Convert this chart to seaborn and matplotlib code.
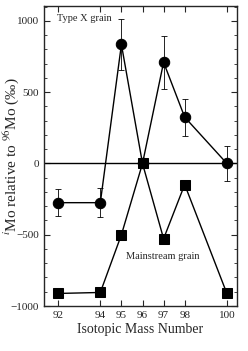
import numpy as np
import pandas as pd
import matplotlib
matplotlib.use("Agg")
from matplotlib import pyplot as plt
from matplotlib.ticker import MultipleLocator
import seaborn as sns

# isotope masses and delta values (permil)
mass = [92, 94, 95, 96, 97, 98, 100]
type_x = [-275, -275, 835, 0, 710, 325, 0]
type_x_err = [95, 100, 180, 0, 185, 130, 125]
mainstream = [-912, -905, -500, 0, -528, -148, -912]
mainstream_err = [15, 15, 30, 0, 25, 20, 15]

sns.set_style("ticks")
plt.rcParams["font.family"] = ["Liberation Serif", "DejaVu Serif"]
plt.rcParams["mathtext.fontset"] = "stix"

df = pd.DataFrame({
    "mass": mass * 2,
    "delta": type_x + mainstream,
    "grain": ["Type X"] * len(mass) + ["Mainstream"] * len(mass),
})

fig = plt.figure(figsize=(2.48, 3.51), dpi=100)
ax = fig.add_axes([44 / 248, 45 / 351, 193 / 248, 300 / 351])

ax.axhline(0, color="black", lw=1.0, zorder=1)

ax.errorbar(mass, type_x, yerr=type_x_err, fmt="none", ecolor="black",
            elinewidth=0.6, capsize=2, capthick=0.6, zorder=2)
ax.errorbar(mass, mainstream, yerr=mainstream_err, fmt="none", ecolor="black",
            elinewidth=0.6, capsize=2, capthick=0.6, zorder=2)

sns.lineplot(data=df, x="mass", y="delta", style="grain", markers={"Type X": "o", "Mainstream": "s"},
             dashes=False, color="black", lw=1.0, markersize=7.5, markeredgecolor="black",
             legend=False, ax=ax, zorder=3)

ax.set_xlim(91.33, 100.48)
ax.set_ylim(-1000, 1105)
ax.set_xticks(mass)
ax.set_yticks([-1000, -500, 0, 500, 1000])
ax.yaxis.set_minor_locator(MultipleLocator(100))
ax.tick_params(direction="in", top=True, right=True, labelsize=8, length=4, width=0.8)
ax.tick_params(which="minor", direction="in", right=True, length=2.5, width=0.6)
for s in ax.spines.values():
    s.set_linewidth(1.0)

ax.set_xlabel("Isotopic Mass Number", fontsize=10, labelpad=2)
ax.set_ylabel("$^{i}$Mo relative to $^{96}$Mo (‰)", fontsize=11)
ax.yaxis.set_label_coords(-0.12, 0.5)

ax.text(91.95, 1020, "Type X grain", fontsize=7.5, va="center", ha="left")
ax.text(95.2, -650, "Mainstream grain", fontsize=7.5, va="center", ha="left")

fig.savefig("out.png", dpi=100)
